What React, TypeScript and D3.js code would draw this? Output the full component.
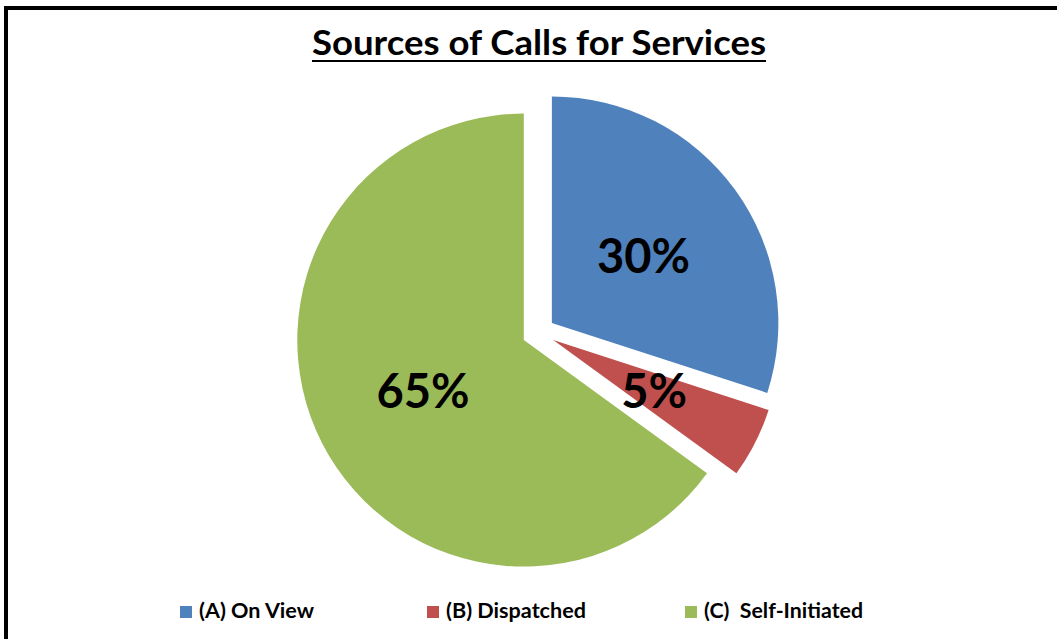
import React from "react";
import * as d3 from "d3";

const categories = ["(A) On View", "(B) Dispatched", "(C)  Self-Initiated"];
const values = [30, 5, 65];
const valueLabels = ["30%", "5%", "65%"];
const colors = ["#4F81BD", "#C0504D", "#9BBB59"];
const title = "Sources of Calls for Services";

const W = 1057;
const H = 639;
const cx = 538.5;
const cy = 332.6;
const R = 226.5;
const EXPLODE = 16.5;

const legendX = [180, 427, 685];
const legendTextW = [115, 140, 159];

export default function App() {
  const pie = d3
    .pie<number>()
    .sort(null)
    .startAngle(0)
    .endAngle(2 * Math.PI)
    .value((d) => d);
  const arcs = pie(values);
  const arc = d3.arc<d3.PieArcDatum<number>>().innerRadius(0).outerRadius(R);

  return (
    <div style={{ position: "absolute", left: 0, top: 0 }}>
      <svg width={W} height={H} style={{ display: "block", background: "#fff" }}>
        <rect x={0} y={0} width={W} height={H} fill="#fff" />
        <rect x={6} y={8} width={W + 50} height={H + 50} fill="none" stroke="#000" strokeWidth={4} />
        <text
          x={539}
          y={55}
          textAnchor="middle"
          fontFamily="Lato, 'Open Sans', sans-serif"
          fontWeight="bold"
          fontSize={35}
          textLength={454}
          lengthAdjust="spacingAndGlyphs"
          fill="#000"
        >
          {title}
        </text>
        <line x1={312} x2={766} y1={61} y2={61} stroke="#000" strokeWidth={2} />
        <g transform={`translate(${cx},${cy})`}>
          {arcs.map((a, i) => {
            const mid = (a.startAngle + a.endAngle) / 2;
            const dx = Math.sin(mid) * EXPLODE;
            const dy = -Math.cos(mid) * EXPLODE;
            const [lx, ly] = arc.centroid(a);
            return (
              <g key={i} transform={`translate(${dx},${dy})`}>
                <path d={arc(a) || ""} fill={colors[i]} />
                <text
                  x={lx}
                  y={ly}
                  dy="0.36em"
                  textAnchor="middle"
                  fontFamily="Lato, 'Open Sans', sans-serif"
                  fontWeight="bold"
                  fontSize={47}
                  fill="#000"
                >
                  {valueLabels[i]}
                </text>
              </g>
            );
          })}
        </g>
        <g>
          {categories.map((c, i) => (
            <g key={c} transform={`translate(${legendX[i]},0)`}>
              <rect x={0} y={606} width={12} height={12} fill={colors[i]} />
              <text
                x={19}
                y={618}
                fontFamily="Lato, 'Open Sans', sans-serif"
                fontWeight="bold"
                fontSize={20}
                textLength={legendTextW[i]}
                lengthAdjust="spacingAndGlyphs"
                style={{ whiteSpace: "pre" }}
                fill="#000"
              >
                {c}
              </text>
            </g>
          ))}
        </g>
      </svg>
    </div>
  );
}
